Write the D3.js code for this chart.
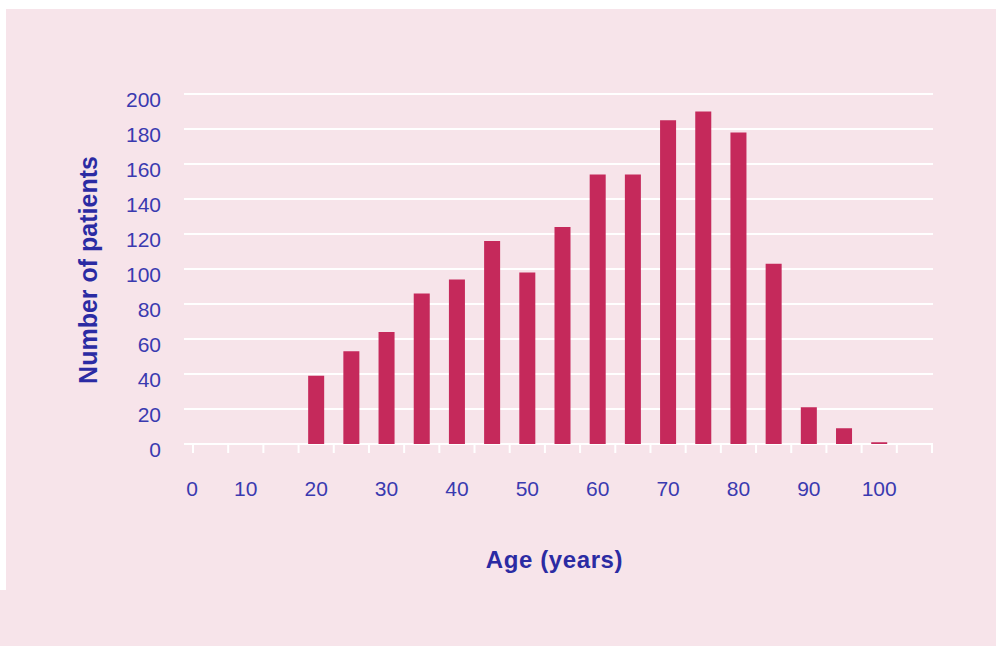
<!DOCTYPE html>
<html>
<head>
<meta charset="utf-8">
<script src="https://cdn.jsdelivr.net/npm/d3@7"></script>
<style>
  html, body { margin: 0; padding: 0; background: #ffffff; }
  svg { display: block; }
  text { font-family: "Liberation Sans", Arial, sans-serif; }
</style>
</head>
<body>
<svg id="chart" width="996" height="646"></svg>
<script>
// ---- data ----
const ages = [20, 25, 30, 35, 40, 45, 50, 55, 60, 65, 70, 75, 80, 85, 90, 95, 100];
const patients = [39, 53, 64, 86, 94, 116, 98, 124, 154, 154, 185, 190, 178, 103, 21, 9, 1];
const yTicks = [0, 20, 40, 60, 80, 100, 120, 140, 160, 180, 200];
const xLabels = [0, 10, 20, 30, 40, 50, 60, 70, 80, 90, 100];
const xTickEdges = d3.range(2.5, 108, 5);
const yTitle = "Number of patients";
const xTitle = "Age (years)";

// ---- layout ----
const W = 996, H = 646;
const svg = d3.select("#chart");
const blue = "#3a3ab0";
const titleBlue = "#2b2ba3";
const barColor = "#c5295b";
const bg = "#f7e4ea";

svg.append("rect").attr("x", 0).attr("y", 0).attr("width", W).attr("height", H).attr("fill", bg);
svg.append("rect").attr("x", 0).attr("y", 0).attr("width", W).attr("height", 9).attr("fill", "#ffffff");
svg.append("rect").attr("x", 0).attr("y", 0).attr("width", 6).attr("height", 590).attr("fill", "#ffffff");

const x = d3.scaleLinear().domain([2.5, 107.5]).range([193, 932]);
const y = d3.scaleLinear().domain([0, 200]).range([444, 94]);
const gridLeft = 184;

// gridlines (incl. baseline)
svg.append("g").selectAll("line").data(yTicks).join("line")
  .attr("x1", gridLeft).attr("x2", x.range()[1] + 1)
  .attr("y1", d => y(d)).attr("y2", d => y(d))
  .attr("stroke", "#ffffff").attr("stroke-width", 2.2);

// x ticks
svg.append("g").selectAll("line").data(xTickEdges).join("line")
  .attr("x1", d => x(d)).attr("x2", d => x(d))
  .attr("y1", y(0)).attr("y2", y(0) + 9)
  .attr("stroke", "#ffffff").attr("stroke-width", 2);

// bars
const bw = (x(5) - x(0)) * 0.455;
svg.append("g").selectAll("rect").data(ages).join("rect")
  .attr("x", d => x(d) - bw / 2)
  .attr("width", bw)
  .attr("y", (d, i) => y(patients[i]))
  .attr("height", (d, i) => y(0) - y(patients[i]))
  .attr("fill", barColor);

// y tick labels
svg.append("g").selectAll("text").data(yTicks).join("text")
  .attr("x", 161)
  .attr("y", d => y(d) + 5)
  .attr("text-anchor", "end")
  .attr("dominant-baseline", "central")
  .attr("font-size", 21)
  .attr("fill", blue)
  .text(d => d);

// x tick labels
svg.append("g").selectAll("text").data(xLabels).join("text")
  .attr("x", d => x(Math.max(d, x.domain()[0])) - (d === 0 ? 1 : 0))
  .attr("y", 488)
  .attr("text-anchor", "middle")
  .attr("dominant-baseline", "central")
  .attr("font-size", 21)
  .attr("fill", blue)
  .text(d => d);

// axis titles
svg.append("text")
  .attr("transform", "translate(88,270) rotate(-90)")
  .attr("text-anchor", "middle")
  .attr("dominant-baseline", "central")
  .attr("font-size", 25)
  .attr("font-weight", "bold")
  .attr("fill", titleBlue)
  .text(yTitle);

svg.append("text")
  .attr("x", 554.5)
  .attr("y", 568)
  .attr("text-anchor", "middle")
  .attr("font-size", 24)
  .attr("font-weight", "bold")
  .attr("letter-spacing", 0.6)
  .attr("fill", titleBlue)
  .text(xTitle);
</script>
</body>
</html>
